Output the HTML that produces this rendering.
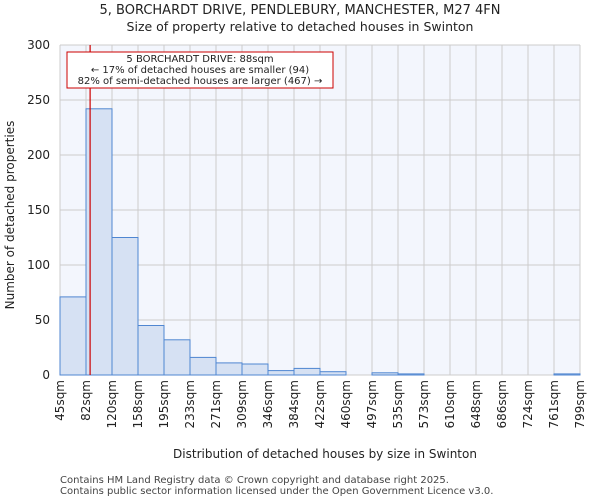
<!DOCTYPE html>
<html><head><meta charset="utf-8"><style>
body{margin:0;background:#fff;font-family:"DejaVu Sans","Liberation Sans",sans-serif;}
</style></head><body>
<svg width="600" height="500" xmlns="http://www.w3.org/2000/svg" font-family="DejaVu Sans, Liberation Sans, sans-serif">
<text x="300" y="14" text-anchor="middle" font-size="13" fill="#222">5, BORCHARDT DRIVE, PENDLEBURY, MANCHESTER, M27 4FN</text>
<text x="300" y="31" text-anchor="middle" font-size="12.5" fill="#222">Size of property relative to detached houses in Swinton</text>
<rect x="60" y="45" width="520" height="330" fill="#f3f6fd"/>
<g id="grid"></g>
<g id="bars"></g>
<g id="ticks"></g>
<line id="marker" stroke="#cc0000" stroke-width="1.2"/>
<rect x="67" y="52" width="266" height="36" fill="#fff" stroke="#cc0000" stroke-width="1"/>
<text x="200" y="62" text-anchor="middle" font-size="10" fill="#222">5 BORCHARDT DRIVE: 88sqm</text>
<text x="200" y="73" text-anchor="middle" font-size="10" fill="#222">← 17% of detached houses are smaller (94)</text>
<text x="200" y="84" text-anchor="middle" font-size="10" fill="#222">82% of semi-detached houses are larger (467) →</text>
<text x="325" y="458" text-anchor="middle" font-size="12" fill="#222">Distribution of detached houses by size in Swinton</text>
<text transform="translate(14,215) rotate(-90)" text-anchor="middle" font-size="12" fill="#222">Number of detached properties</text>
<text x="60" y="483" font-size="10" fill="#444">Contains HM Land Registry data © Crown copyright and database right 2025.</text>
<text x="60" y="494" font-size="10" fill="#444">Contains public sector information licensed under the Open Government Licence v3.0.</text>
</svg>
<script>
const xLabels=["45sqm","82sqm","120sqm","158sqm","195sqm","233sqm","271sqm","309sqm","346sqm","384sqm","422sqm","460sqm","497sqm","535sqm","573sqm","610sqm","648sqm","686sqm","724sqm","761sqm","799sqm"];
const binEdges=[45,82,120,158,195,233,271,309,346,384,422,460,497,535,573,610,648,686,724,761,799];
const counts=[71,242,125,45,32,16,11,10,4,6,3,0,2,1,0,0,0,0,0,1];
const yTicks=[0,50,100,150,200,250,300];
const markerValue=88;
const L=60,R=580,T=45,B=375,yMax=300;
const NS="http://www.w3.org/2000/svg";
const nb=counts.length, bw=(R-L)/nb;
function xi(i){return L+i*bw;}
function xv(v){for(let i=0;i<binEdges.length-1;i++){if(v<=binEdges[i+1])return xi(i)+(v-binEdges[i])/(binEdges[i+1]-binEdges[i])*bw;}return R;}
function y(v){return B-v/yMax*(B-T);}
function mk(t,a,p){const e=document.createElementNS(NS,t);for(const k in a)e.setAttribute(k,a[k]);p.appendChild(e);return e;}
const grid=document.getElementById('grid'),bars=document.getElementById('bars'),ticks=document.getElementById('ticks');
xLabels.forEach((l,i)=>{
 const g=mk('line',{x1:xi(i),x2:xi(i),y1:T,y2:B,stroke:'#cccccc','stroke-width':1},grid);
 
 
 const t=mk('text',{transform:`translate(${xi(i)+4},380) rotate(-90)`,'text-anchor':'end','font-size':12,fill:'#222'},ticks);
 t.textContent=l;
 
 
});
yTicks.forEach(v=>{
 const g=mk('line',{x1:L,x2:R,y1:y(v),y2:y(v),stroke:'#cccccc','stroke-width':1},grid);
 
 
 const t=mk('text',{x:L-10,y:y(v)+4,'text-anchor':'end','font-size':12,fill:'#222'},ticks);
 t.textContent=v;
 
 
});
counts.forEach((c,i)=>{
 if(c<=0)return;
 const r=mk('rect',{x:xi(i),y:y(c),width:bw,height:B-y(c),fill:'#d6e1f3',stroke:'#4f86d1','stroke-width':1},bars);
 
 
});
const m=document.getElementById('marker'),mx=xv(markerValue);
m.setAttribute('x1',mx);m.setAttribute('x2',mx);m.setAttribute('y1',T);m.setAttribute('y2',B);
</script>
</body></html>
